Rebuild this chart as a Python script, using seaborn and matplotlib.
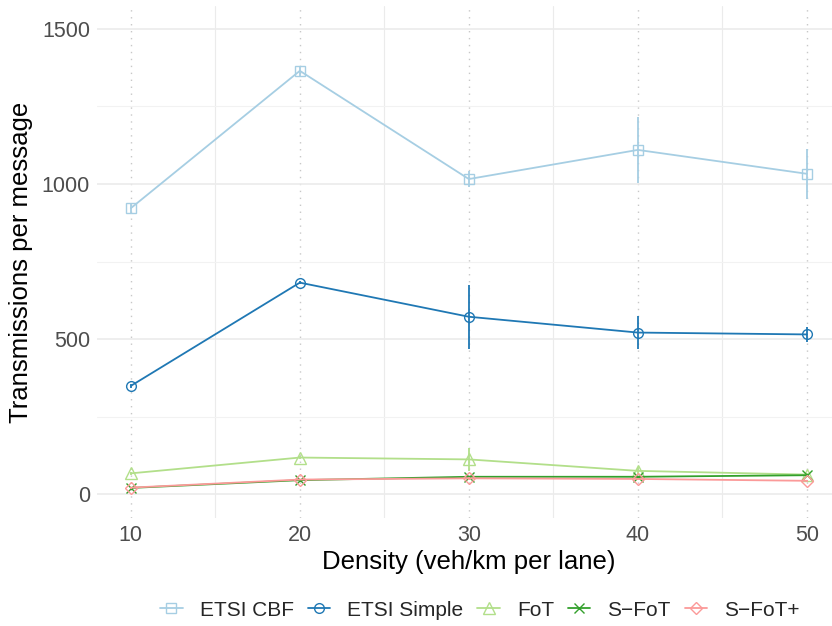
import matplotlib
matplotlib.use("Agg")
import matplotlib.pyplot as plt
import seaborn as sns
import pandas as pd
import numpy as np
from matplotlib.ticker import MultipleLocator

density = [10, 20, 30, 40, 50]
series_names = ["ETSI CBF", "ETSI Simple", "FoT", "S\u2212FoT", "S\u2212FoT+"]
etsi_cbf = [922, 1365, 1016, 1110, 1033]
etsi_cbf_err = [16, 16, 25, 107, 80]
etsi_simple = [349, 682, 572, 521, 515]
etsi_simple_err = [6, 6, 103, 54, 25]
fot = [67, 118, 112, 75, 63]
fot_err = [4, 4, 38, 13, 5]
sfot = [20, 45, 56, 56, 61]
sfot_err = [3, 3, 4, 4, 3]
sfotp = [21, 47, 51, 49, 43]
sfotp_err = [3, 3, 4, 4, 3]

colors = ["#A6CEE3", "#1F78B4", "#B2DF8A", "#33A02C", "#FB9A99"]
markers = ["s", "o", "^", "x", "D"]
msizes = [7, 7, 8, 7, 6]

sns.set_theme(style="white")
plt.rcParams['font.family'] = ['Liberation Sans', 'DejaVu Sans']

fig = plt.figure(figsize=(8.32, 6.26), dpi=100)
ax = fig.add_axes([0.1166, 0.1725, 0.8938, 0.8179])

vals = [etsi_cbf, etsi_simple, fot, sfot, sfotp]
errs = [etsi_cbf_err, etsi_simple_err, fot_err, sfot_err, sfotp_err]

for name, v, e, c, m, ms in zip(series_names, vals, errs, colors, markers, msizes):
    df = pd.DataFrame({"x": density, "y": v})
    sns.lineplot(data=df, x="x", y="y", ax=ax, color=c, marker=m,
                 markersize=ms, markerfacecolor="none", markeredgecolor=c,
                 markeredgewidth=1.0, linewidth=1.3, label=name, zorder=3)
    lo = np.array(v) - np.array(e)
    hi = np.array(v) + np.array(e)
    ax.vlines(density, lo, hi, colors=c, linewidth=1.3, zorder=3)

ax.set_xlim(8, 52)
ax.set_ylim(-77, 1574)
ax.xaxis.set_major_locator(MultipleLocator(10))
ax.xaxis.set_minor_locator(MultipleLocator(5))
ax.yaxis.set_major_locator(MultipleLocator(500))
ax.yaxis.set_minor_locator(MultipleLocator(250))

ax.grid(which="major", axis="y", color="#EBEBEB", linewidth=1.2, zorder=0)
ax.grid(which="minor", axis="y", color="#F2F2F2", linewidth=0.8, zorder=0)
ax.grid(which="major", axis="x", color="#C8C8C8", linewidth=1.0,
        linestyle=(0, (1, 4)), zorder=0)
ax.grid(which="minor", axis="x", color="#EBEBEB", linewidth=0.8, zorder=0)
ax.set_axisbelow(True)
for s in ax.spines.values():
    s.set_visible(False)
ax.tick_params(which="both", length=0, labelsize=15.5, labelcolor="#4D4D4D", pad=5)

ax.set_xlabel("Density (veh/km per lane)", fontsize=18.5, color="black", labelpad=3)
ax.set_ylabel("Transmissions per message", fontsize=18.5, color="black", labelpad=6)

ax.legend(loc="center", bbox_transform=fig.transFigure,
          bbox_to_anchor=(480 / 832, 1 - 610 / 626),
          ncol=5, frameon=False, fontsize=15, handlelength=1.08,
          columnspacing=0.67, handletextpad=0.82, borderaxespad=0)
fig.savefig("out.png", dpi=100)
